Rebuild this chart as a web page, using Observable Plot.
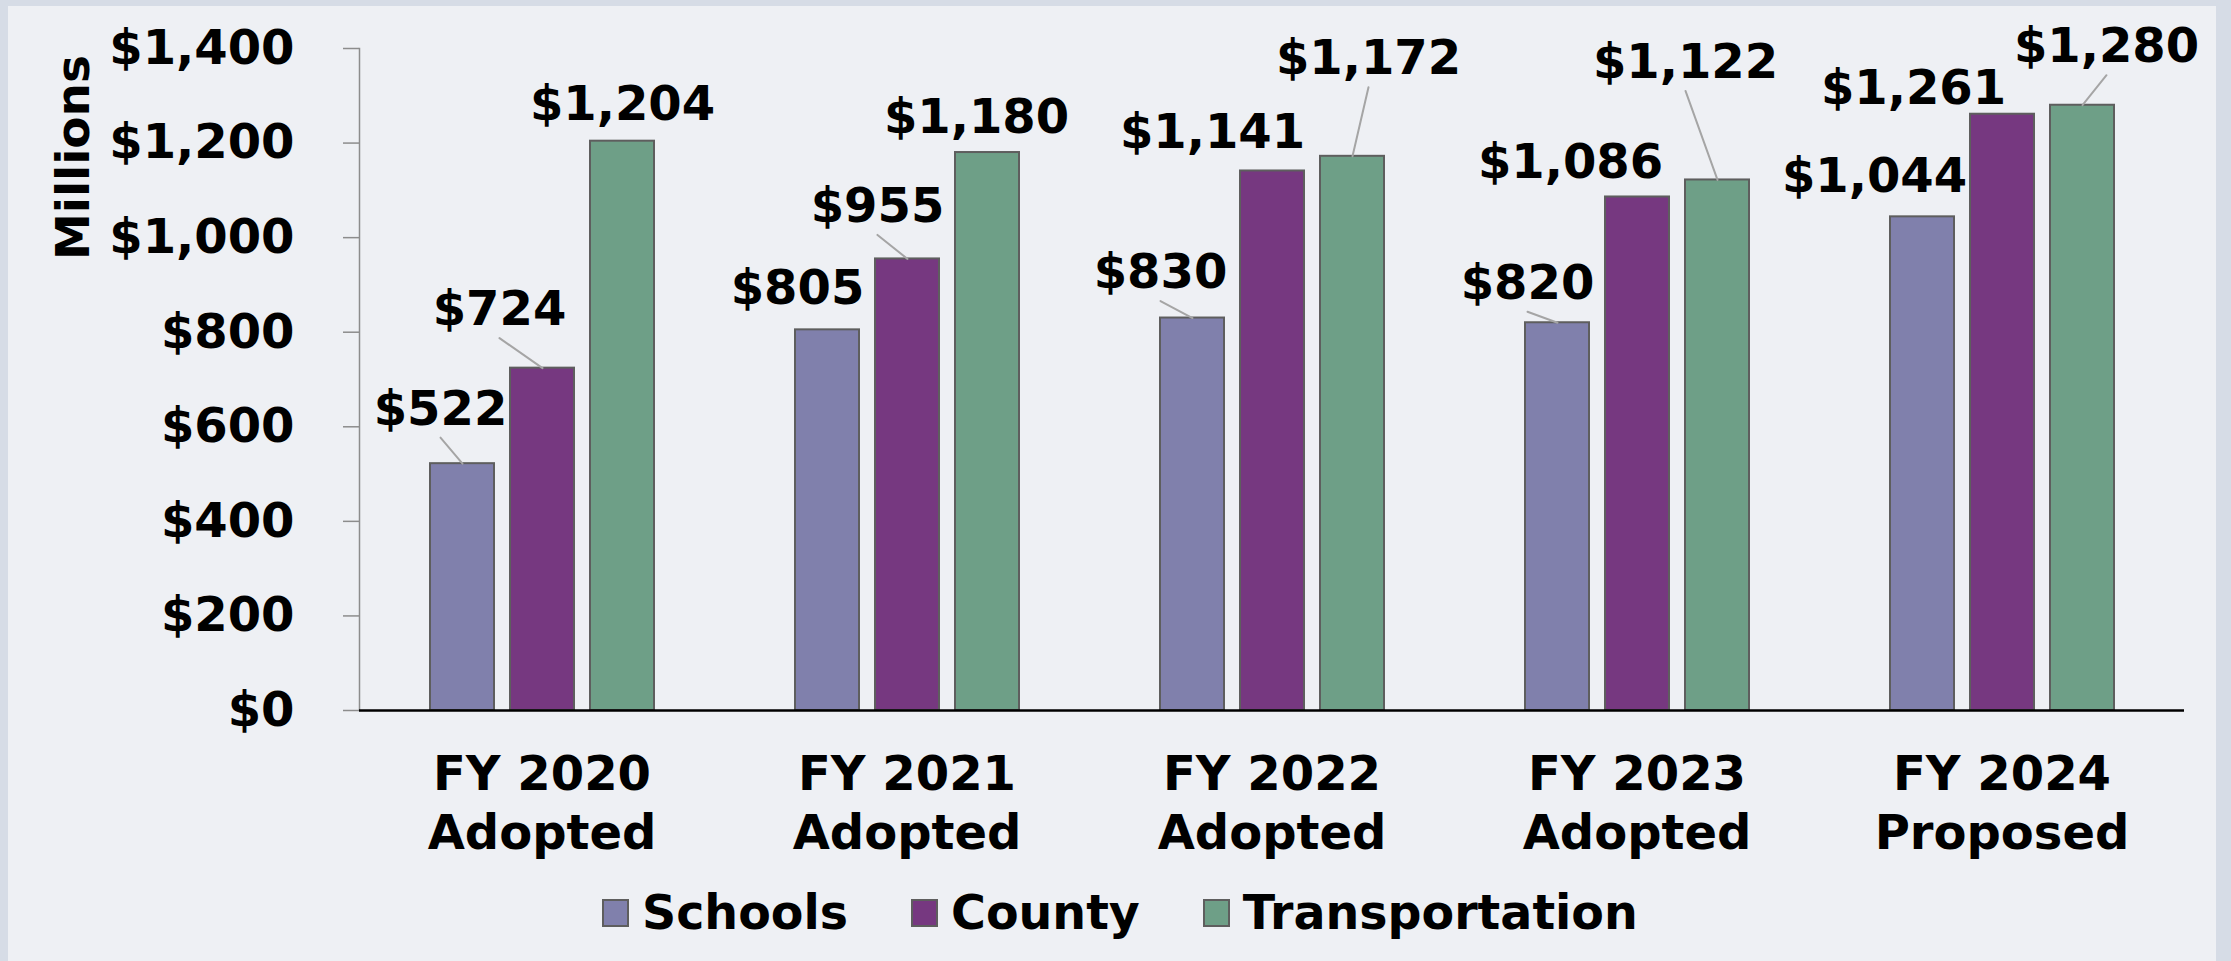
<!DOCTYPE html>
<html>
<head>
<meta charset="utf-8">
<script src="https://cdn.jsdelivr.net/npm/d3@7"></script>
<script src="https://cdn.jsdelivr.net/npm/@observablehq/plot@0.6"></script>
<style>
  html, body { margin: 0; padding: 0; overflow: hidden; }
  body { width: 2231px; height: 961px; background: #d6dce6; position: relative;
         font-family: "DejaVu Sans", Verdana, sans-serif; font-weight: bold; }
  #panel { position: absolute; left: 8px; top: 6px; width: 2208px; height: 955px; background: #eef0f4; }
  #chart { position: absolute; left: 0; top: 0; }
  #legend { position: absolute; left: 602px; top: 889px; height: 48px; display: flex; align-items: center;
            font-size: 47.5px; line-height: 48px; color: #000; }
  #legend .item { display: flex; align-items: center; margin-right: 63px; }
  #legend .sw { width: 27px; height: 28px; box-sizing: border-box; border: 2px solid #5e5e5e; margin-right: 13px; }
</style>
</head>
<body>
<div id="panel"></div>
<div id="chart"></div>
<div id="legend"></div>
<script>
// ---- data ----
const years = ["FY 2020", "FY 2021", "FY 2022", "FY 2023", "FY 2024"];
const stages = ["Adopted", "Adopted", "Adopted", "Adopted", "Proposed"];
const series = ["Schools", "County", "Transportation"];
const schools = [522, 805, 830, 820, 1044];
const county = [724, 955, 1141, 1086, 1261];
const transportation = [1204, 1180, 1172, 1122, 1280];
const yTicks = [0, 200, 400, 600, 800, 1000, 1200, 1400];

// ---- styling ----
const colors = ["#8080ac", "#763880", "#6e9f87"];
// label offsets in pixels from bar-top centre: [dx, dy(baseline), hasLeader]
const schoolsLabelLayout = [[-22, -39, 1], [-30, -26, 0], [-32, -30, 1], [-30, -24, 1], [-48, -25, 0]];
const countyLabelLayout = [[-43, -43, 1], [-30, -37, 1], [-60, -23, 0], [-67, -19, 0], [-89, -10, 0]];
const transportationLabelLayout = [[0, -21, 0], [-11, -20, 0], [16, -82, 1], [-32, -102, 1], [24, -43, 1]];
const leaderGap = 13;
const FONT = "'DejaVu Sans', Verdana, sans-serif";

const values = [schools, county, transportation];
const layouts = [schoolsLabelLayout, countyLabelLayout, transportationLabelLayout];
const groupLabels = years.map((y, i) => y + "\n" + stages[i]);

const rows = [];
groupLabels.forEach((g, i) => series.forEach((s, j) => {
  const [dx, dy, lead] = layouts[j][i];
  const ex = dx, ey = dy + leaderGap;
  rows.push({group: g, series: s, value: values[j][i], dx, dy, lead,
             len: Math.hypot(ex, ey), ang: Math.atan2(ex, -ey) * 180 / Math.PI});
}));
const fmt = d => "$" + d3.format(",")(d);

const lineShape = { draw(context, l) { context.moveTo(0, 0); context.lineTo(0, -l); } };

const marks = [
  Plot.barY(rows, {fx: "group", x: "series", y: "value", fill: "series", stroke: "#5e5e5e", strokeWidth: 2}),
  Plot.frame({anchor: "left", facetAnchor: "left", stroke: "#8c8c8c", strokeWidth: 1.5}),
  Plot.ruleY([0], {stroke: "#000", strokeWidth: 2.5}),
  Plot.axisY({ticks: yTicks, tickFormat: fmt, tickSize: 16, tickPadding: 49,
              stroke: "#8c8c8c", strokeWidth: 1.5, fontSize: 48, fontWeight: "bold", label: null}),
  Plot.axisFx({anchor: "bottom", tickSize: 0, tickPadding: 38, fontSize: 48, fontWeight: "bold",
               lineHeight: 1.22, label: null}),
  Plot.vector(rows.filter(r => r.lead), {fx: "group", x: "series", y: "value", length: "len", rotate: "ang",
              anchor: "start", shape: lineShape, stroke: "#a5a5a5", strokeWidth: 2, fill: "none"}),
  ...rows.map(r => Plot.text([r], {fx: "group", x: "series", y: "value", text: d => fmt(d.value),
              dx: r.dx, dy: r.dy, lineAnchor: "bottom", textAnchor: "middle", fontSize: 48,
              fontWeight: "bold", fill: "#000"})),
  Plot.text(["Millions"], {frameAnchor: "left", facetAnchor: "left", text: d => d, rotate: -90,
              dx: -286, dy: -222, fontSize: 47, fontWeight: "bold", textAnchor: "middle",
              lineAnchor: "middle", fill: "#000"})
];

const chart = Plot.plot({
  width: 2231,
  height: 870,
  marginLeft: 357,
  marginRight: 46,
  marginTop: 48,
  marginBottom: 160,
  style: {background: "transparent", fontFamily: FONT, fontSize: "48px", fontWeight: "bold", color: "#000", overflow: "visible"},
  fx: {domain: groupLabels, padding: 0, label: null},
  x: {domain: series, paddingInner: 0.204, paddingOuter: 0.859, axis: null},
  y: {domain: [0, 1400], axis: null, label: null},
  color: {domain: series, range: colors},
  length: {type: "identity"},
  marks
});
document.getElementById("chart").appendChild(chart);

// legend
const legend = document.getElementById("legend");
series.forEach((s, j) => {
  const item = document.createElement("div");
  item.className = "item";
  const sw = document.createElement("span");
  sw.className = "sw";
  sw.style.background = colors[j];
  const t = document.createElement("span");
  t.textContent = s;
  item.appendChild(sw);
  item.appendChild(t);
  legend.appendChild(item);
});
</script>
</body>
</html>
